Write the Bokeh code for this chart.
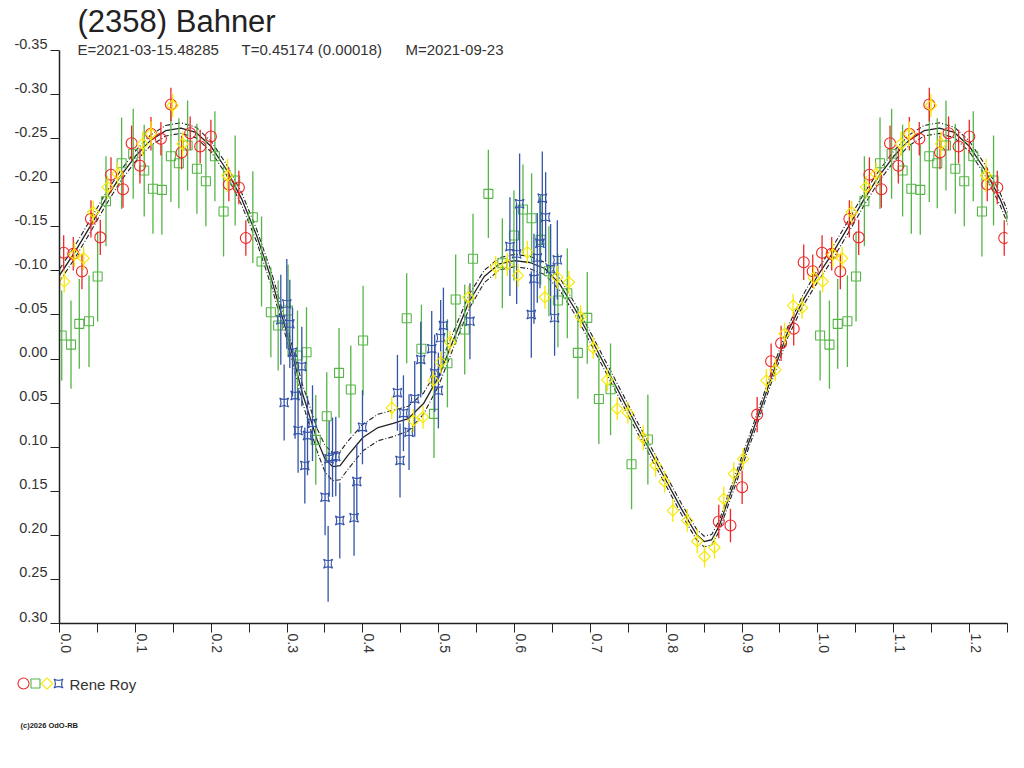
import math
from bokeh.plotting import figure
from bokeh.models import Range1d, LinearAxis, FixedTicker, CustomJSTickFormatter, ColumnDataSource
from bokeh.layouts import column
from bokeh.core.properties import value
from bokeh.embed import file_html
from bokeh.resources import INLINE

# ---------------- texts ----------------
TITLE = "(2358) Bahner"
SUB_E = "E=2021-03-15.48285"
SUB_T = "T=0.45174 (0.00018)"
SUB_M = "M=2021-09-23"
OBSERVER = "Rene Roy"
COPYRIGHT = "(c)2026 OdO-RB"

# ---------------- data (phase, relative magnitude, error) ----------------
red_phase = [0.0055, 0.0182, 0.0296, 0.0415, 0.0538, 0.0679, 0.0837, 0.0951, 0.1061, 0.1206,
             0.1337, 0.1469, 0.1610, 0.1723, 0.1855, 0.1996, 0.2233, 0.2365, 0.2457, 0.8693,
             0.8847, 0.9001, 0.9199, 0.9383, 0.9515, 0.9681, 0.9813, 0.9932]
red_mag = [-0.1205, -0.1193, -0.0993, -0.1590, -0.1380, -0.2090, -0.1926, -0.2448, -0.2192, -0.2555,
           -0.2498, -0.2887, -0.2343, -0.2562, -0.2411, -0.2524, -0.1980, -0.1946, -0.1373, 0.1843,
           0.1889, 0.1454, 0.0630, 0.0025, -0.0179, -0.0343, -0.1098, -0.0996]
red_err = [0.020, 0.019, 0.020, 0.021, 0.020, 0.020, 0.021, 0.020, 0.020, 0.019,
           0.019, 0.019, 0.019, 0.019, 0.019, 0.019, 0.019, 0.019, 0.020, 0.019,
           0.019, 0.019, 0.020, 0.020, 0.020, 0.019, 0.020, 0.019]

green_phase = [0.0029, 0.0152, 0.0261, 0.0389, 0.0503, 0.0613, 0.0819, 0.0972, 0.1117, 0.1232,
               0.1350, 0.1469, 0.1574, 0.1689, 0.1812, 0.1930, 0.2049, 0.2163, 0.2316, 0.2549,
               0.2664, 0.2787, 0.2883, 0.3014, 0.3138, 0.3257, 0.3379, 0.3524, 0.3686, 0.3841,
               0.4003, 0.4578, 0.4772, 0.4938, 0.5115, 0.5224, 0.5343, 0.5452, 0.5655, 0.5839,
               0.5992, 0.6111, 0.6225, 0.6344, 0.6453, 0.6572, 0.6696, 0.6835, 0.6959, 0.7112,
               0.7266, 0.7543, 0.7758]
green_mag = [-0.0267, -0.0164, -0.0399, -0.0429, -0.0936, -0.1790, -0.2221, -0.2328, -0.2138, -0.1931,
             -0.1919, -0.2301, -0.2221, -0.2422, -0.2158, -0.2017, -0.2301, -0.1673, -0.2025, -0.1609,
             -0.1106, -0.0531, -0.0380, -0.0550, -0.0040, -0.0077, 0.0917, 0.0649, 0.0157, 0.0346,
             -0.0210, -0.0463, -0.0116, 0.0622, 0.0048, -0.0675, -0.0335, -0.1137, -0.1874, -0.1087,
             -0.1401, -0.1696, -0.1597, -0.1352, -0.0996, -0.0664, -0.0746, -0.0070, -0.0467, 0.0454,
             0.0343, 0.1193, 0.0913]
green_err = [0.051, 0.050, 0.051, 0.052, 0.051, 0.051, 0.052, 0.051, 0.052, 0.051,
             0.051, 0.052, 0.051, 0.051, 0.051, 0.051, 0.051, 0.051, 0.051, 0.052,
             0.051, 0.051, 0.051, 0.052, 0.051, 0.051, 0.051, 0.050, 0.051, 0.050,
             0.062, 0.051, 0.050, 0.050, 0.050, 0.051, 0.051, 0.051, 0.050, 0.051,
             0.051, 0.051, 0.051, 0.051, 0.051, 0.053, 0.051, 0.052, 0.052, 0.051,
             0.052, 0.051, 0.051]

yellow_phase = [0.0063, 0.0195, 0.0319, 0.0445, 0.0635, 0.0767, 0.1096, 0.1206, 0.1491, 0.1623,
                0.2216, 0.4381, 0.4667, 0.4793, 0.4930, 0.5026, 0.5149, 0.5391, 0.5751, 0.5905,
                0.6045, 0.6169, 0.6400, 0.6564, 0.6717, 0.6871, 0.7038, 0.7223, 0.7354, 0.7494,
                0.7697, 0.7859, 0.7978, 0.8087, 0.8277, 0.8409, 0.8505, 0.8636, 0.8759, 0.8891,
                0.9015, 0.9321, 0.9440, 0.9559, 0.9673, 0.9792, 0.9945]
yellow_mag = [-0.0879, -0.1185, -0.1143, -0.1665, -0.1949, -0.2101, -0.2441, -0.2555, -0.2876, -0.2441,
              -0.2082, 0.0554, 0.0698, 0.0660, 0.0244, 0.0036, -0.0191, -0.0701, -0.1041, -0.1072,
              -0.0947, -0.1212, -0.0701, -0.0928, -0.0871, -0.0479, -0.0127, 0.0236, 0.0565, 0.0610,
              0.0894, 0.1205, 0.1390, 0.1719, 0.1832, 0.2067, 0.2240, 0.2138, 0.1586, 0.1302,
              0.1132, 0.0244, 0.0123, -0.0286, -0.0607, -0.0581, -0.0921]
yellow_err = [0.0125, 0.014, 0.013, 0.013, 0.013, 0.013, 0.014, 0.014, 0.013, 0.014,
              0.019, 0.0125, 0.013, 0.013, 0.011, 0.0125, 0.0125, 0.013, 0.013, 0.013,
              0.013, 0.013, 0.013, 0.013, 0.013, 0.013, 0.0125, 0.013, 0.013, 0.0125,
              0.014, 0.013, 0.0125, 0.013, 0.013, 0.014, 0.0125, 0.0125, 0.014, 0.013,
              0.0125, 0.013, 0.0125, 0.0125, 0.013, 0.0125, 0.013]

blue_phase = [0.2918, 0.2997, 0.3037, 0.2962, 0.3072, 0.3107, 0.3146, 0.3195, 0.3235, 0.3270,
              0.3336, 0.3502, 0.3542, 0.3555, 0.3600, 0.3643, 0.3696, 0.3884, 0.3920, 0.3995,
              0.4456, 0.4490, 0.4535, 0.4609, 0.4684, 0.4763, 0.4908, 0.4947, 0.4996, 0.5026,
              0.5062, 0.5412, 0.5939, 0.6028, 0.6067, 0.6221, 0.6256, 0.6300, 0.6335, 0.6366,
              0.6410, 0.6476, 0.6528, 0.6564]
blue_mag = [-0.0445, -0.0626, -0.0399, 0.0493, -0.0077, 0.0414, 0.0811, 0.0085, 0.1208, 0.0868,
            0.0728, 0.1568, 0.2323, 0.1132, 0.1114, 0.1106, 0.1832, 0.1801, 0.1390, 0.0774,
            0.0383, 0.1151, 0.0615, 0.0830, 0.0451, 0.0006, -0.0116, 0.0161, 0.0357, -0.0240,
            -0.0380, -0.0429, -0.1276, -0.1193, -0.1761, -0.0505, -0.0910, -0.1148, -0.1314, -0.1824,
            -0.1609, -0.1023, -0.0467, -0.1125]
blue_err = [0.051, 0.051, 0.050, 0.043, 0.050, 0.049, 0.048, 0.045, 0.043, 0.045,
            0.043, 0.043, 0.043, 0.043, 0.045, 0.045, 0.043, 0.043, 0.043, 0.042,
            0.043, 0.042, 0.043, 0.043, 0.043, 0.043, 0.043, 0.044, 0.043, 0.043,
            0.043, 0.043, 0.056, 0.057, 0.057, 0.049, 0.051, 0.051, 0.051, 0.053,
            0.051, 0.051, 0.043, 0.045]

# Fourier fit, with its uncertainty band half-width
fit_phase = [0.00, 0.02, 0.04, 0.06, 0.08, 0.10, 0.12, 0.14, 0.16, 0.18,
             0.20, 0.22, 0.24, 0.26, 0.28, 0.30, 0.32, 0.34, 0.35, 0.36,
             0.37, 0.38, 0.40, 0.42, 0.44, 0.46, 0.48, 0.50, 0.52, 0.54,
             0.56, 0.58, 0.60, 0.62, 0.64, 0.66, 0.68, 0.70, 0.72, 0.74,
             0.76, 0.78, 0.80, 0.82, 0.84, 0.85, 0.86, 0.87, 0.88, 0.90,
             0.92, 0.94, 0.96, 0.98, 1.00]
fit_mag = [-0.095, -0.121, -0.150, -0.180, -0.207, -0.230, -0.248, -0.259, -0.262, -0.257,
           -0.241, -0.215, -0.182, -0.140, -0.089, -0.029, 0.038, 0.0925, 0.113, 0.122,
           0.121, 0.1095, 0.089, 0.0777, 0.073, 0.0675, 0.0505, 0.020, -0.023, -0.065,
           -0.0936, -0.108, -0.1117, -0.1095, -0.1027, -0.0845, -0.0562, -0.0244, 0.0085, 0.0414,
           0.0743, 0.106, 0.138, 0.170, 0.199, 0.207, 0.205, 0.189, 0.164, 0.116,
           0.0675, 0.0176, -0.030, -0.066, -0.095]
fit_band = [0.007, 0.007, 0.007, 0.007, 0.006, 0.006, 0.006, 0.006, 0.006, 0.006,
            0.006, 0.006, 0.007, 0.007, 0.008, 0.008, 0.010, 0.013, 0.015, 0.016,
            0.016, 0.016, 0.015, 0.015, 0.015, 0.014, 0.012, 0.010, 0.009, 0.008,
            0.007, 0.007, 0.007, 0.007, 0.007, 0.007, 0.006, 0.006, 0.006, 0.006,
            0.006, 0.006, 0.006, 0.006, 0.006, 0.006, 0.006, 0.006, 0.006, 0.006,
            0.006, 0.006, 0.006, 0.006, 0.007]

# axis ticks
y_ticks = [-0.35, -0.30, -0.25, -0.20, -0.15, -0.10, -0.05, 0.00, 0.05, 0.10, 0.15, 0.20, 0.25, 0.30]
x_major = [0.0, 0.1, 0.2, 0.3, 0.4, 0.5, 0.6, 0.7, 0.8, 0.9, 1.0, 1.1, 1.2]
x_minor = [0.05, 0.15, 0.25, 0.35, 0.45, 0.55, 0.65, 0.75, 0.85, 0.95, 1.05, 1.15, 1.25]

# ---------------- styling ----------------
RED = "#ee2626"
GREEN = "#55b546"
YELLOW = "#f7e800"
BLUE = "#3554a8"
INK = "#222222"
FONT = "Liberation Sans"
REPEAT_UPTO = 0.26          # phases repeated one cycle later
XSHIFT = 0.0083             # rotated label offset (data units)
YSHIFT = -0.0079            # y label offset (data units)
FRAME_LEFT, FRAME_RIGHT, FRAME_BOTTOM = 59, 1007, 623
W = 1016
H_MAIN = 668
H_LEG = 95
Y_BOTTOM = 0.30
Y_PER_PX = 0.65 / 573.0
Y_TOP = Y_BOTTOM - FRAME_BOTTOM * Y_PER_PX
X_PER_PX = 1.25 / (FRAME_RIGHT - FRAME_LEFT)


def wrap(ph, *cols):
    out_ph = list(ph) + [p + 1.0 for p in ph if p <= REPEAT_UPTO]
    outs = []
    for c in cols:
        outs.append(list(c) + [v for p, v in zip(ph, c) if p <= REPEAT_UPTO])
    return out_ph, outs


def series_source(ph, mag, err):
    x, (y, e) = wrap(ph, mag, err)
    return ColumnDataSource(dict(x=x, y=y, lo=[a - b for a, b in zip(y, e)], hi=[a + b for a, b in zip(y, e)]))


p = figure(width=W, height=H_MAIN, x_range=Range1d(0, 1.25), y_range=Range1d(Y_BOTTOM, Y_TOP),
           output_backend="svg", toolbar_location=None, title=None,
           x_axis_location=None, y_axis_location=None,
           min_border_left=FRAME_LEFT, min_border_right=W - FRAME_RIGHT, min_border_top=0,
           min_border_bottom=H_MAIN - FRAME_BOTTOM)
p.outline_line_color = None
p.background_fill_color = "white"
p.border_fill_color = "white"
p.xgrid.visible = False
p.ygrid.visible = False
p.grid.visible = False

blank = CustomJSTickFormatter(code="return '';")

# x axis: ticks + line
ax_x = LinearAxis(ticker=FixedTicker(ticks=x_major, minor_ticks=x_minor), formatter=blank,
                  major_tick_in=0, major_tick_out=9, minor_tick_in=0, minor_tick_out=9,
                  major_label_text_font_size="1px", major_label_standoff=0,
                  axis_line_color=INK, axis_line_width=1.5,
                  major_tick_line_color=INK, minor_tick_line_color=INK,
                  major_tick_line_width=1, minor_tick_line_width=1)
p.add_layout(ax_x, "below")
# x axis: rotated labels
ax_xl = LinearAxis(ticker=FixedTicker(ticks=[t + XSHIFT for t in x_major], minor_ticks=[]),
                   formatter=CustomJSTickFormatter(args=dict(s=XSHIFT),
                                                   code="return (Math.round((tick - s) * 10) / 10).toFixed(1);"),
                   major_label_orientation=-math.pi / 2, major_label_standoff=1,
                   major_tick_in=0, major_tick_out=0, minor_tick_in=0, minor_tick_out=0,
                   axis_line_color=None, major_tick_line_color=None, minor_tick_line_color=None,
                   major_label_text_font=FONT, major_label_text_font_size="14px",
                   major_label_text_color="#333333")
p.add_layout(ax_xl, "below")

# y axis: ticks + line
ax_y = LinearAxis(ticker=FixedTicker(ticks=y_ticks, minor_ticks=[]), formatter=blank,
                  bounds=(-0.35, 0.30),
                  major_tick_in=0, major_tick_out=9, minor_tick_in=0, minor_tick_out=0,
                  major_label_text_font_size="1px", major_label_standoff=0,
                  axis_line_color=INK, axis_line_width=1.5,
                  major_tick_line_color=INK, major_tick_line_width=1)
p.add_layout(ax_y, "left")
ax_yl = LinearAxis(ticker=FixedTicker(ticks=[t + YSHIFT for t in y_ticks], minor_ticks=[]),
                   formatter=CustomJSTickFormatter(args=dict(s=YSHIFT),
                                                   code="return (Math.round((tick - s) * 100) / 100).toFixed(2);"),
                   major_label_standoff=3,
                   major_tick_in=0, major_tick_out=0, minor_tick_in=0, minor_tick_out=0,
                   axis_line_color=None, major_tick_line_color=None, minor_tick_line_color=None,
                   major_label_text_font=FONT, major_label_text_font_size="14.5px",
                   major_label_text_color="#333333")
p.add_layout(ax_yl, "left")

# fit curve and band
fx, (fy, fb) = wrap(fit_phase, fit_mag, fit_band)
fit_src = ColumnDataSource(dict(x=fx, y=fy,
                                up=[a - b for a, b in zip(fy, fb)],
                                dn=[a + b for a, b in zip(fy, fb)]))
p.line("x", "up", source=fit_src, line_color=INK, line_width=1.1, line_dash="5 2 1 2")
p.line("x", "dn", source=fit_src, line_color=INK, line_width=1.1, line_dash="5 2 1 2")
p.line("x", "y", source=fit_src, line_color=INK, line_width=1.3)

# observations
specs = [
    (green_phase, green_mag, green_err, GREEN, dict(marker="square", size=9)),
    (blue_phase, blue_mag, blue_err, BLUE, dict(marker="square_pin", size=9)),
    (red_phase, red_mag, red_err, RED, dict(marker="circle", size=11)),
    (yellow_phase, yellow_mag, yellow_err, YELLOW, dict(marker="square", size=8, angle=math.pi / 4)),
]
for ph, mg, er, col, mk in specs:
    src = series_source(ph, mg, er)
    p.segment(x0="x", y0="lo", x1="x", y1="hi", source=src, line_color=col, line_width=1.3)
    p.scatter(x="x", y="y", source=src, fill_color=None, line_color=col, line_width=1.1, **mk)


# title and subtitle (inside the top of the frame, above the y axis bounds)
def fx_px(px):
    return (px - FRAME_LEFT) * X_PER_PX


def fy_px(py):
    return Y_TOP + py * Y_PER_PX


p.text(x=[fx_px(77)], y=[fy_px(20.5)], text=[TITLE], text_font=value(FONT), text_font_size="31px",
       text_baseline="middle", text_color=INK)
p.text(x=[fx_px(77), fx_px(241), fx_px(405)], y=[fy_px(48.5)] * 3, text=[SUB_E, SUB_T, SUB_M],
       text_font=value(FONT), text_font_size="15px", text_baseline="middle", text_color="#333333")

# ---------------- legend strip below ----------------
q = figure(width=W, height=H_LEG, x_range=Range1d(0, W), y_range=Range1d(H_LEG, 0),
           output_backend="svg", toolbar_location=None, title=None,
           x_axis_location=None, y_axis_location=None, min_border=0)
try:
    q.frame_align = False
    p.frame_align = False
except Exception:
    pass
q.outline_line_color = None
q.grid.visible = False
LEG_Y = 683 - H_MAIN
q.scatter(x=[23], y=[LEG_Y], marker="circle", size=11, fill_color=None, line_color=RED, line_width=1.1)
q.scatter(x=[35], y=[LEG_Y], marker="square", size=9, fill_color=None, line_color=GREEN, line_width=1.1)
q.scatter(x=[46.5], y=[LEG_Y], marker="square", size=8, angle=math.pi / 4, fill_color=None, line_color=YELLOW, line_width=1.1)
q.scatter(x=[58], y=[LEG_Y], marker="square_pin", size=9, fill_color=None, line_color=BLUE, line_width=1.1)
q.text(x=[69], y=[LEG_Y + 0.5], text=[OBSERVER], text_font=value(FONT), text_font_size="15px",
       text_baseline="middle", text_color="#333333")
q.text(x=[20], y=[725 - H_MAIN], text=[COPYRIGHT], text_font=value(FONT), text_font_size="7.5px",
       text_font_style="bold", text_baseline="middle", text_color=INK)

layout = column(p, q, spacing=0)
open("out.html", "w").write(file_html(layout, INLINE))
